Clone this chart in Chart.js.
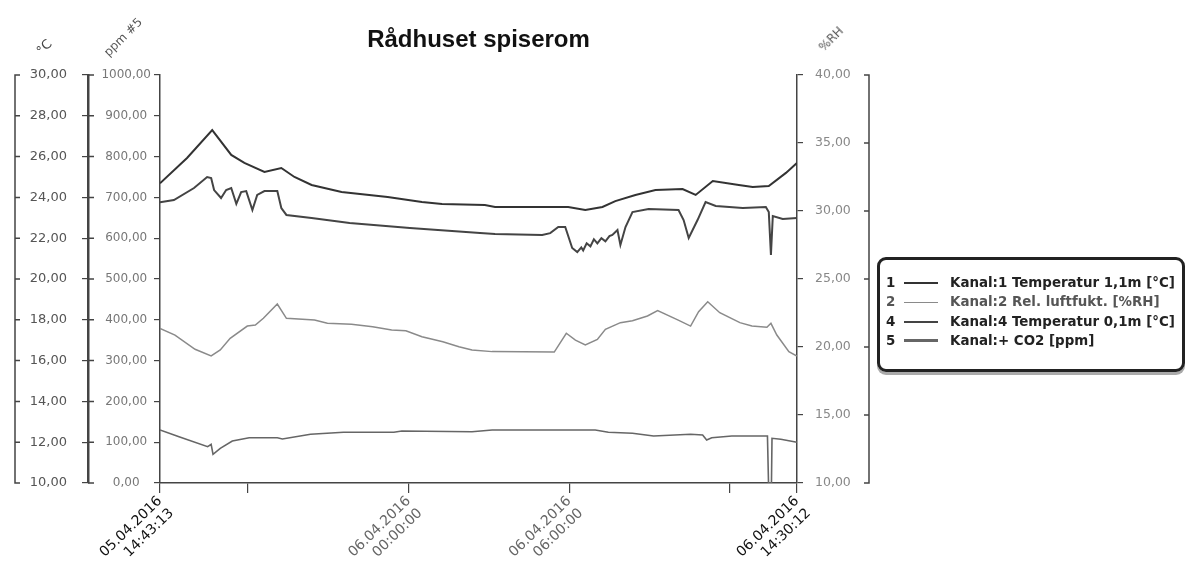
<!DOCTYPE html>
<html lang="no">
<head>
  <meta charset="UTF-8">
  <title>Rådhuset spiserom</title>
  <script src="https://cdn.jsdelivr.net/npm/chart.js"></script>
  <style>
    body { margin: 0; background: #fff; font-family: "Liberation Sans", Arial, sans-serif; }
    #wrap { position: relative; width: 1186px; height: 571px; }
    .axtitle { position: absolute; font-family: "DejaVu Sans", sans-serif; font-size: 12px; color: #555;
               transform: translate(-50%, -50%) rotate(-45deg); white-space: nowrap; }
    #legend { position: absolute; left: 877px; top: 257px; width: 308px; height: 115px;
              border: 3px solid #222; border-radius: 9px; box-shadow: 0 3px 0 #aaa;
              padding: 13px 0 0 6px; box-sizing: border-box; }
    .row { height: 19.3px; line-height: 19.3px; font-family: "DejaVu Sans", sans-serif; font-weight: bold;
           font-size: 13.4px; white-space: nowrap; }
    .row .num { display: inline-block; width: 14px; }
    .row .smp { display: inline-block; width: 34px; margin: 0 12px 0 4px; vertical-align: middle; }
  </style>
</head>
<body>
  <div id="wrap">
    <canvas id="chart" width="1186" height="571"></canvas>
    <span class="axtitle" style="left:44px; top:47px; font-size:13px; color:#444;">°C</span>
    <span class="axtitle" style="left:123px; top:37px;">ppm #5</span>
    <span class="axtitle" style="left:831px; top:39px;">%RH</span>
    <div id="legend"></div>
  </div>

  <script>
    // time axis: hours counted from 05.04.2016 00:00:00
    const startHour = 14 + 43 / 60 + 13 / 3600;   // 05.04.2016 14:43:13
    const endHour = 24 + 14 + 30 / 60 + 12 / 3600; // 06.04.2016 14:30:12
    const tickHours = [startHour, 18, 24, 30, 36, endHour];
    const tickLabels = [['05.04.2016', '14:43:13'], '', ['06.04.2016', '00:00:00'], ['06.04.2016', '06:00:00'], '', ['06.04.2016', '14:30:12']];

    // Kanal:1 Temperatur 1,1m [°C]
    const k1Hours = [14.72, 15.73, 16.67, 17.38, 17.87, 18.62, 19.25, 19.74, 20.38, 21.50, 23.22, 24.50, 25.25, 26.85, 27.23,
                     29.96, 30.60, 31.24, 31.72, 32.47, 33.22, 34.23, 34.72, 35.36, 36.33, 36.85, 37.45, 38.09, 38.50];
    const k1Temp = [24.69, 25.93, 27.30, 26.08, 25.69, 25.25, 25.44, 25.00, 24.61, 24.26, 24.02, 23.77, 23.68, 23.63, 23.53,
                    23.53, 23.38, 23.53, 23.82, 24.12, 24.36, 24.41, 24.12, 24.80, 24.61, 24.51, 24.56, 25.20, 25.69];

    // Kanal:2 Rel. luftfukt. [%RH]
    const k2Hours = [14.72, 15.28, 16.03, 16.63, 16.97, 17.34, 17.98, 18.28, 18.58, 19.10, 19.44, 20.49, 20.97, 21.87, 22.66,
                     23.37, 23.90, 24.50, 25.28, 25.88, 26.37, 27.12, 29.44, 29.89, 30.23, 30.60, 31.05, 31.35, 31.91, 32.36,
                     32.92, 33.30, 34.05, 34.53, 34.83, 35.17, 35.62, 36.37, 36.82, 37.38, 37.53, 37.75, 38.20, 38.50];
    const k2Rh = [21.37, 20.88, 19.83, 19.34, 19.78, 20.64, 21.54, 21.62, 22.11, 23.16, 22.11, 21.99, 21.74, 21.67, 21.49,
                  21.25, 21.20, 20.76, 20.39, 20.02, 19.78, 19.66, 19.63, 21.01, 20.51, 20.15, 20.56, 21.30, 21.79, 21.93,
                  22.28, 22.67, 21.99, 21.54, 22.60, 23.33, 22.52, 21.79, 21.54, 21.45, 21.74, 20.88, 19.66, 19.34];

    // Kanal:4 Temperatur 0,1m [°C]
    const k4Hours = [14.72, 15.24, 15.99, 16.48, 16.63, 16.74, 17.00, 17.19, 17.38, 17.57, 17.75, 17.94, 18.17, 18.35, 18.62,
                     19.10, 19.25, 19.44, 20.38, 21.80, 24.05, 26.67, 27.23, 28.99, 29.29, 29.59, 29.85, 30.11, 30.30, 30.45,
                     30.52, 30.65, 30.79, 30.92, 31.05, 31.20, 31.35, 31.50, 31.61, 31.80, 31.91, 32.10, 32.36, 32.96, 34.08,
                     34.27, 34.46, 34.79, 35.09, 35.47, 36.48, 37.34, 37.45, 37.53, 37.60, 37.97, 38.50];
    const k4Temp = [23.76, 23.87, 24.46, 25.00, 24.95, 24.36, 23.97, 24.36, 24.46, 23.68, 24.26, 24.31, 23.38, 24.12, 24.31,
                    24.31, 23.48, 23.14, 22.99, 22.75, 22.50, 22.25, 22.21, 22.16, 22.25, 22.55, 22.55, 21.52, 21.32, 21.55,
                    21.40, 21.75, 21.60, 21.95, 21.75, 22.00, 21.85, 22.10, 22.16, 22.40, 21.67, 22.55, 23.28, 23.43, 23.38,
                    22.89, 22.01, 22.89, 23.77, 23.58, 23.48, 23.53, 23.28, 21.18, 23.09, 22.94, 22.99];

    // Kanal:+ CO2 [ppm]
    const k5Hours = [14.72, 15.43, 16.50, 16.63, 16.70, 16.97, 17.42, 18.05, 19.10, 19.29, 20.34, 21.57, 23.45, 23.75, 26.37,
                     27.12, 30.97, 31.46, 32.36, 33.15, 34.53, 34.98, 35.13, 35.32, 36.07, 37.40, 37.44, 37.55, 37.57, 37.90, 38.50];
    const k5Co2 = [129.9, 113.5, 89.0, 94.9, 70.3, 85.0, 102.9, 111.0, 111.0, 107.8, 119.4, 124.3, 124.3, 127.5, 125.7,
                   129.9, 129.9, 124.3, 121.8, 115.2, 119.4, 117.6, 105.4, 111.0, 115.2, 115.2, 0, 0, 109.6, 107.1, 99.8];

    const legendNames = ['Kanal:1 Temperatur 1,1m [°C]', 'Kanal:2 Rel. luftfukt. [%RH]', 'Kanal:4 Temperatur 0,1m [°C]', 'Kanal:+ CO2 [ppm]'];
    const legendNums = ['1', '2', '4', '5'];

    function pts(xs, ys) { return xs.map((x, i) => ({ x: x, y: ys[i] })); }
    function comma(v) { return Number(v).toFixed(2).replace('.', ','); }

    const seriesStyle = [
      { color: '#333', width: 2, textColor: '#222', sample: 2 },
      { color: '#8a8a8a', width: 1.5, textColor: '#555', sample: 1.5 },
      { color: '#444', width: 2, textColor: '#222', sample: 2 },
      { color: '#666', width: 1.6, textColor: '#222', sample: 3 }
    ];

    const axisBrackets = {
      id: 'axisBrackets',
      afterDraw(chart) {
        const ctx = chart.ctx;
        const c = chart.scales.yC, p = chart.scales.yPpm, r = chart.scales.yRH;
        ctx.save();
        ctx.strokeStyle = '#444';
        ctx.lineWidth = 1.5;
        ctx.beginPath();
        const x0 = c.left + 5;
        ctx.moveTo(x0 + 5, c.top); ctx.lineTo(x0, c.top); ctx.lineTo(x0, c.bottom); ctx.lineTo(x0 + 5, c.bottom);
        c.ticks.forEach(t => { const y = c.getPixelForValue(t.value); ctx.moveTo(x0, y); ctx.lineTo(x0 + 5, y); });
        p.ticks.forEach(t => { const y = p.getPixelForValue(t.value); ctx.moveTo(c.right, y); ctx.lineTo(c.right + 6, y); });
        const x1 = r.right - 3;
        ctx.moveTo(x1 - 5, r.top); ctx.lineTo(x1, r.top); ctx.lineTo(x1, r.bottom); ctx.lineTo(x1 - 5, r.bottom);
        r.ticks.forEach(t => { const y = r.getPixelForValue(t.value); ctx.moveTo(x1, y); ctx.lineTo(x1 - 5, y); });
        ctx.stroke();
        ctx.restore();
      }
    };

    const datasets = [
      { label: legendNames[0], data: pts(k1Hours, k1Temp), yAxisID: 'yC' },
      { label: legendNames[1], data: pts(k2Hours, k2Rh), yAxisID: 'yRH' },
      { label: legendNames[2], data: pts(k4Hours, k4Temp), yAxisID: 'yC' },
      { label: legendNames[3], data: pts(k5Hours, k5Co2), yAxisID: 'yPpm' }
    ].map((d, i) => Object.assign(d, {
      borderColor: seriesStyle[i].color,
      borderWidth: seriesStyle[i].width,
      pointRadius: 0,
      tension: 0,
      fill: false
    }));

    const gridStyle = { drawOnChartArea: false, color: '#444', tickLength: 6, lineWidth: 1.2 };

    new Chart(document.getElementById('chart'), {
      type: 'line',
      data: { datasets: datasets },
      options: {
        responsive: false,
        animation: false,
        layout: { padding: { left: 10, right: 314, top: 0, bottom: 0 } },
        plugins: {
          legend: { display: false },
          tooltip: { enabled: false },
          title: {
            display: true,
            text: 'Rådhuset spiserom',
            fullSize: false,
            color: '#111',
            font: { family: 'Liberation Sans', size: 24, weight: 'bold' },
            padding: { top: 26, bottom: 20.2 }
          }
        },
        scales: {
          x: {
            type: 'linear',
            min: startHour,
            max: endHour,
            afterBuildTicks: s => { s.ticks = tickHours.map(v => ({ value: v })); },
            afterFit: s => { s.height = 88; },
            grid: { drawOnChartArea: false, color: '#444', tickLength: 10, lineWidth: 1.2 },
            border: { color: '#444', width: 1.5 },
            ticks: {
              autoSkip: false,
              minRotation: 44,
              maxRotation: 44,
              padding: 0,
              font: { family: 'DejaVu Sans', size: 14 },
              color: c => (c.index === 0 || c.index === tickHours.length - 1) ? '#111' : '#666',
              callback: (v, i) => tickLabels[i]
            }
          },
          yC: {
            type: 'linear',
            position: 'left',
            weight: 2,
            min: 10, max: 30,
            afterFit: s => { s.width = 78; },
            grid: gridStyle,
            border: { color: '#444', width: 2.5 },
            ticks: { stepSize: 2, padding: 15, color: '#555', font: { family: 'DejaVu Sans', size: 13 }, callback: comma }
          },
          yPpm: {
            type: 'linear',
            position: 'left',
            weight: 1,
            min: 0, max: 1000,
            afterFit: s => { s.width = 72; },
            grid: gridStyle,
            border: { color: '#444', width: 1.5 },
            ticks: { stepSize: 100, padding: 3, crossAlign: 'center', color: '#777', font: { family: 'DejaVu Sans', size: 12 }, callback: comma }
          },
          yRH: {
            type: 'linear',
            position: 'right',
            min: 10, max: 40,
            afterFit: s => { s.width = 75; },
            grid: gridStyle,
            border: { color: '#444', width: 1.5 },
            ticks: { stepSize: 5, padding: 12, color: '#888', font: { family: 'DejaVu Sans', size: 12.5 }, callback: comma }
          }
        }
      },
      plugins: [axisBrackets]
    });

    // legend box
    const legendEl = document.getElementById('legend');
    legendNames.forEach((name, i) => {
      const row = document.createElement('div');
      row.className = 'row';
      row.style.color = seriesStyle[i].textColor;
      row.innerHTML = '<span class="num">' + legendNums[i] + '</span><span class="smp" style="border-top:' +
        seriesStyle[i].sample + 'px solid ' + seriesStyle[i].color + '"></span>' + name;
      legendEl.appendChild(row);
    });
  </script>
</body>
</html>
